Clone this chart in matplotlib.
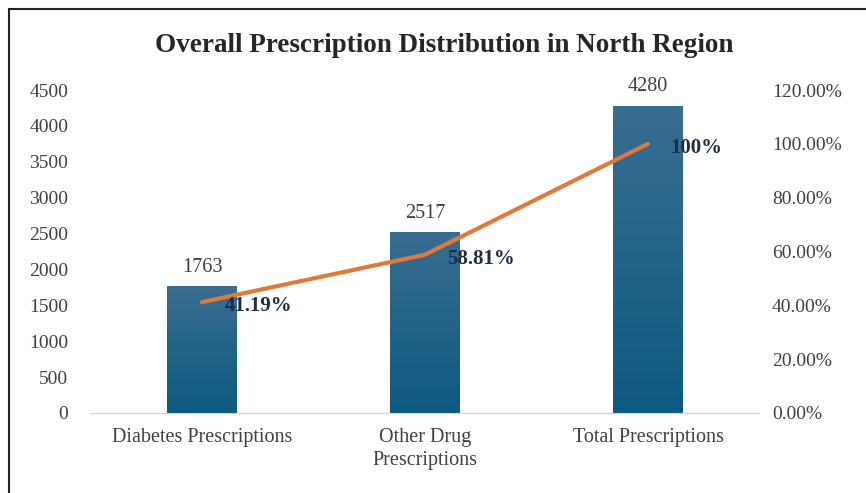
import matplotlib.pyplot as plt
import numpy as np
from matplotlib.colors import LinearSegmentedColormap
from matplotlib.patches import Rectangle

plt.rcParams['font.family'] = ['Liberation Serif', 'DejaVu Serif']

categories = ['Diabetes Prescriptions', 'Other Drug\nPrescriptions', 'Total Prescriptions']
counts = [1763, 2517, 4280]
shares = [41.19, 58.81, 100.0]
share_labels = ['41.19%', '58.81%', '100%']
left_ticks = [0, 500, 1000, 1500, 2000, 2500, 3000, 3500, 4000, 4500]
right_ticks = [0, 20, 40, 60, 80, 100, 120]

fig = plt.figure(figsize=(8.66, 4.93), dpi=100)
ax = fig.add_axes([0.1045, 0.1623, 0.7725, 0.6551])
ax2 = ax.twinx()

# gradient bars
grad = LinearSegmentedColormap.from_list('bar', ['#0d5a80', '#3a6d92'])
x = np.arange(len(categories))
bars = ax.bar(x, counts, width=0.31, color='none', zorder=2)
g = np.linspace(0, 1, 256).reshape(-1, 1)
for b in bars:
    x0, y0 = b.get_x(), b.get_y()
    w, h = b.get_width(), b.get_height()
    im = ax.imshow(g, cmap=grad, aspect='auto', origin='lower',
                   extent=[x0, x0 + w, y0, y0 + h], zorder=2)
    im.set_clip_path(b)
for xi, c in zip(x, counts):
    ax.text(xi, c + 130, str(c), ha='center', va='bottom', fontsize=14.5, color='#404040')

ax.set_xlim(-0.5, 2.5)
ax.set_ylim(0, 4500)
ax.set_yticks(left_ticks)
ax.set_xticks(x)
ax.set_xticklabels(categories, fontsize=14.5, color='#404040', linespacing=1.3)
ax.tick_params(axis='y', length=0, pad=16, labelsize=14, labelcolor='#404040')
ax.tick_params(axis='x', length=0, pad=11)
for s in ['top', 'left', 'right']:
    ax.spines[s].set_visible(False)
ax.spines['bottom'].set_color('#d0d0d0')

ax2.plot(x, shares, color='#e0793a', lw=3, solid_capstyle='round', zorder=3)
for xi, s, lab in zip(x, shares, share_labels):
    ax2.text(xi + 0.1, s - 1.5, lab, ha='left', va='center', fontsize=15,
             fontweight='bold', color='#1c2c48')
ax2.set_ylim(0, 120)
ax2.set_yticks(right_ticks)
ax2.set_yticklabels([f'{t:.2f}%' for t in right_ticks])
ax2.tick_params(axis='y', length=0, pad=9, labelsize=14, labelcolor='#404040')
for s in ['top', 'left', 'right', 'bottom']:
    ax2.spines[s].set_visible(False)

fig.text(0.513, 0.908, 'Overall Prescription Distribution in North Region',
         ha='center', va='center', fontsize=19.5, fontweight='bold', color='#262626')

# outer frame
fig.patches.append(Rectangle((9 / 866, -0.1), 1.1, 1 - 9 / 493 + 0.1, transform=fig.transFigure,
                             fill=False, edgecolor='#222222', lw=1.5))

fig.savefig('out.png', dpi=100)
